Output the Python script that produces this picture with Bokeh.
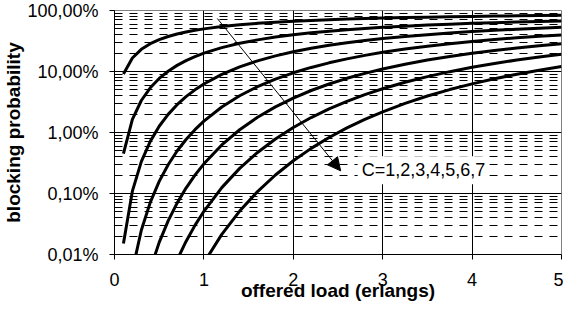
import math
from bokeh.plotting import figure
from bokeh.models import (Range1d, FixedTicker, CustomJSTickFormatter, Label,
                          Arrow, NormalHead, ColumnDataSource)
from bokeh.embed import file_html
from bokeh.resources import INLINE

# offered load (erlangs)
load = [0.1, 0.2, 0.3, 0.4, 0.5, 0.6, 0.7, 0.8, 0.9, 1.0,
        1.2, 1.4, 1.6, 1.8, 2.0, 2.2, 2.4, 2.6, 2.8, 3.0,
        3.25, 3.5, 3.75, 4.0, 4.25, 4.5, 4.75, 5.0]

# blocking probability for C = 1..7 channels
c1 = [0.0909, 0.1667, 0.2308, 0.2857, 0.3333, 0.375, 0.4118, 0.4444, 0.4737, 0.5,
      0.5455, 0.5833, 0.6154, 0.6429, 0.6667, 0.6875, 0.7059, 0.7222, 0.7368, 0.75,
      0.7647, 0.7778, 0.7895, 0.8, 0.8095, 0.8182, 0.8261, 0.8333]
c2 = [0.004525, 0.01639, 0.03346, 0.05405, 0.07692, 0.1011, 0.1260, 0.1509, 0.1757, 0.2,
      0.2466, 0.2899, 0.3299, 0.3665, 0.4, 0.4306, 0.4586, 0.4842, 0.5078, 0.5294,
      0.5541, 0.5765, 0.5968, 0.6154, 0.6324, 0.6480, 0.6624, 0.6757]
c3 = [1.508e-4, 1.092e-3, 3.335e-3, 7.156e-3, 0.01266, 0.01982, 0.02855, 0.03869, 0.05007, 0.0625,
      0.08978, 0.1192, 0.1496, 0.1803, 0.2105, 0.2400, 0.2684, 0.2956, 0.3215, 0.3462,
      0.3751, 0.4021, 0.4273, 0.4507, 0.4725, 0.4929, 0.5119, 0.5297]
c4 = [3.77e-6, 5.458e-5, 2.500e-4, 7.151e-4, 1.580e-3, 2.965e-3, 4.972e-3, 7.679e-3, 0.01114, 0.01538,
      0.02623, 0.04004, 0.05647, 0.07503, 0.09524, 0.1166, 0.1387, 0.1612, 0.1837, 0.2061,
      0.2336, 0.2603, 0.2860, 0.3107, 0.3343, 0.3567, 0.3781, 0.3983]
c5 = [7.54e-8, 2.183e-6, 1.500e-5, 5.720e-5, 1.580e-4, 3.556e-4, 6.956e-4, 1.228e-3, 2.001e-3, 3.067e-3,
      6.255e-3, 0.01109, 0.01775, 0.02630, 0.03670, 0.04880, 0.06242, 0.07733, 0.09329, 0.1101,
      0.1318, 0.1541, 0.1766, 0.1991, 0.2213, 0.2430, 0.2643, 0.2849]
c6 = [1.257e-9, 7.28e-8, 7.50e-7, 3.813e-6, 1.316e-5, 3.556e-5, 8.115e-5, 1.637e-4, 3.001e-4, 5.110e-4,
      1.249e-3, 2.581e-3, 4.711e-3, 7.829e-3, 0.01208, 0.01758, 0.02436, 0.03242, 0.04172, 0.05216,
      0.06664, 0.08248, 0.09941, 0.1172, 0.1355, 0.1542, 0.1730, 0.1919]
c7 = [1.8e-11, 2.08e-9, 3.21e-8, 2.179e-7, 9.402e-7, 3.048e-6, 8.115e-6, 1.871e-5, 3.859e-5, 7.299e-5,
      2.141e-4, 5.158e-4, 1.076e-3, 2.009e-3, 3.441e-3, 5.495e-3, 8.283e-3, 0.01190, 0.01641, 0.02186,
      0.03001, 0.03961, 0.05056, 0.06275, 0.07601, 0.09017, 0.1051, 0.1205]
series = [c1, c2, c3, c4, c5, c6, c7]

y_ticks = [1e-4, 1e-3, 1e-2, 1e-1, 1.0]
y_grid_major = [1e-3, 1e-2, 1e-1]
y_grid_minor = [k * d for d in [1e-4, 1e-3, 1e-2, 1e-1] for k in range(2, 10)]
x_ticks = [0, 1, 2, 3, 4, 5]
x_grid = [1, 2, 3, 4]

x_title = "offered load (erlangs)"
y_title = "blocking probability"
note_text = "C=1,2,3,4,5,6,7"

FONT = "Liberation Sans"

p = figure(width=563, height=303, x_range=Range1d(0, 5), y_range=Range1d(1e-4, 1),
           y_axis_type="log", output_backend="svg", toolbar_location=None,
           min_border_left=100, min_border_right=2, min_border_top=10, min_border_bottom=40,
           background_fill_color="white", border_fill_color="white")
p.outline_line_color = "#808080"
p.outline_line_width = 1

# grids
p.xgrid.ticker = FixedTicker(ticks=x_grid)
p.xgrid.grid_line_color = "black"
p.xgrid.grid_line_width = 1
p.ygrid.ticker = FixedTicker(ticks=y_grid_major, minor_ticks=y_grid_minor)
p.ygrid.grid_line_color = "black"
p.ygrid.grid_line_width = 1
p.ygrid.minor_grid_line_color = "black"
p.ygrid.minor_grid_line_width = 1
p.ygrid.minor_grid_line_dash = "8 7"

# axes
p.xaxis.ticker = FixedTicker(ticks=x_ticks)
p.yaxis.ticker = FixedTicker(ticks=y_ticks)
p.yaxis.formatter = CustomJSTickFormatter(
    code="return (tick*100).toFixed(2).replace('.', ',') + '%';")
for ax in (p.xaxis, p.yaxis):
    ax.axis_line_color = "black"
    ax.axis_line_width = 1
    ax.major_tick_line_color = "black"
    ax.major_tick_out = 5
    ax.major_tick_in = 0
    ax.minor_tick_line_color = None
    ax.major_label_text_font = FONT
    ax.major_label_text_font_size = "18px"
    ax.major_label_text_color = "black"
    ax.axis_label_text_font = FONT
    ax.axis_label_text_font_size = "19px"
    ax.axis_label_text_font_style = "bold"
    ax.axis_label_text_color = "black"
p.yaxis.major_label_standoff = 11
p.yaxis.axis_label = y_title
p.yaxis.axis_label_standoff = 0
p.xaxis.major_label_standoff = 13
p.xaxis.axis_label = x_title
p.xaxis.axis_label_standoff = -9

src = ColumnDataSource(dict(x=load, **{f"c{i+1}": s for i, s in enumerate(series)}))
for i in range(len(series)):
    p.line("x", f"c{i+1}", source=src, line_color="black", line_width=3)

p.add_layout(Arrow(end=NormalHead(size=13, fill_color="black", line_color="black", line_width=1),
                   x_start=1.15, y_start=0.74, x_end=2.53, y_end=0.00235,
                   line_color="black", line_width=1))

p.add_layout(Label(x=2.72, y=0.0024, text=note_text, text_font=FONT, text_font_size="18px",
                   text_baseline="middle", text_align="left", text_color="black",
                   background_fill_color="white", padding=4))

open("out.html", "w").write(file_html(p, INLINE))
